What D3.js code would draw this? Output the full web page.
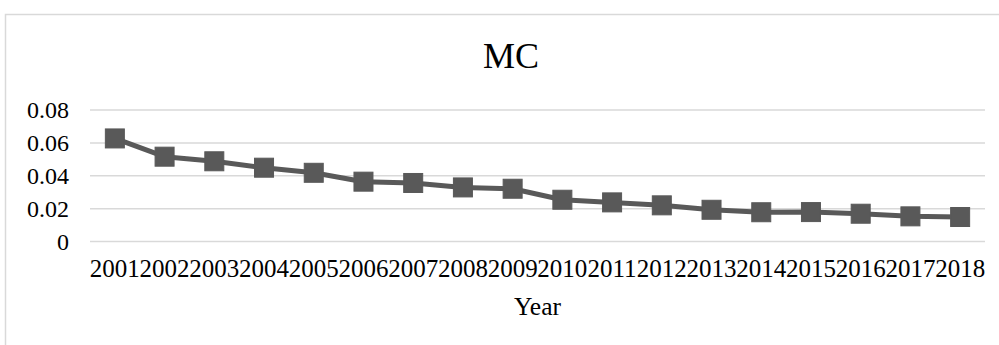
<!DOCTYPE html>
<html>
<head>
<meta charset="utf-8">
<script src="https://cdn.jsdelivr.net/npm/d3@7"></script>
<style>
  html, body { margin: 0; padding: 0; background: #fff; }
  svg { display: block; }
  text { font-family: "Liberation Serif", "Times New Roman", serif; fill: #000; }
</style>
</head>
<body>
<div id="chart"></div>
<script>
const years = ["2001","2002","2003","2004","2005","2006","2007","2008","2009","2010","2011","2012","2013","2014","2015","2016","2017","2018"];
const mcValues = [0.0627,0.0516,0.0488,0.0449,0.0418,0.0364,0.0356,0.0329,0.0321,0.0254,0.0238,0.0220,0.0193,0.0178,0.0179,0.0169,0.0153,0.0149];
const yTicks = [0, 0.02, 0.04, 0.06, 0.08];
const yTickLabels = ["0", "0.02", "0.04", "0.06", "0.08"];
const titleText = "MC";
const xAxisTitle = "Year";

const W = 999, H = 345;
const plot = { left: 90, right: 985, top: 110, bottom: 241.5 };

const svg = d3.select("#chart").append("svg").attr("width", W).attr("height", H);

// chart area border
svg.append("path")
  .attr("d", `M5.5,${H} L5.5,14.5 L${W},14.5`)
  .attr("fill", "none").attr("stroke", "#d9d9d9").attr("stroke-width", 1.5);

const x = d3.scaleBand().domain(years).range([plot.left, plot.right]);
const y = d3.scaleLinear().domain([0, 0.08]).range([plot.bottom, plot.top]);

// gridlines
svg.append("g").selectAll("line").data(yTicks).join("line")
  .attr("x1", plot.left).attr("x2", plot.right)
  .attr("y1", d => y(d)).attr("y2", d => y(d))
  .attr("stroke", "#d9d9d9").attr("stroke-width", 1.5);

// y labels
svg.append("g").selectAll("text").data(yTicks).join("text")
  .attr("x", 69).attr("y", d => y(d) + 8)
  .attr("text-anchor", "end").attr("font-size", 24)
  .text((d, i) => yTickLabels[i]);

// x labels
svg.append("g").selectAll("text").data(years).join("text")
  .attr("x", d => x(d) + x.bandwidth() / 2).attr("y", 276.5)
  .attr("text-anchor", "middle").attr("font-size", 25)
  .text(d => d);

// line
const line = d3.line().x((d, i) => x(years[i]) + x.bandwidth() / 2).y(d => y(d));
svg.append("path").datum(mcValues)
  .attr("d", line).attr("fill", "none")
  .attr("stroke", "#595959").attr("stroke-width", 5).attr("stroke-linejoin", "round");

// markers
const ms = 19;
svg.append("g").selectAll("rect").data(mcValues).join("rect")
  .attr("x", (d, i) => x(years[i]) + x.bandwidth() / 2 - ms / 2)
  .attr("y", d => y(d) - ms / 2)
  .attr("width", ms).attr("height", ms)
  .attr("fill", "#595959").attr("stroke", "#595959").attr("stroke-width", 1);

// title
svg.append("text").attr("x", 511).attr("y", 67.5)
  .attr("text-anchor", "middle").attr("font-size", 36).text(titleText);

// x axis title
svg.append("text").attr("x", (plot.left + plot.right) / 2).attr("y", 315)
  .attr("text-anchor", "middle").attr("font-size", 25.5).text(xAxisTitle);
</script>
</body>
</html>
